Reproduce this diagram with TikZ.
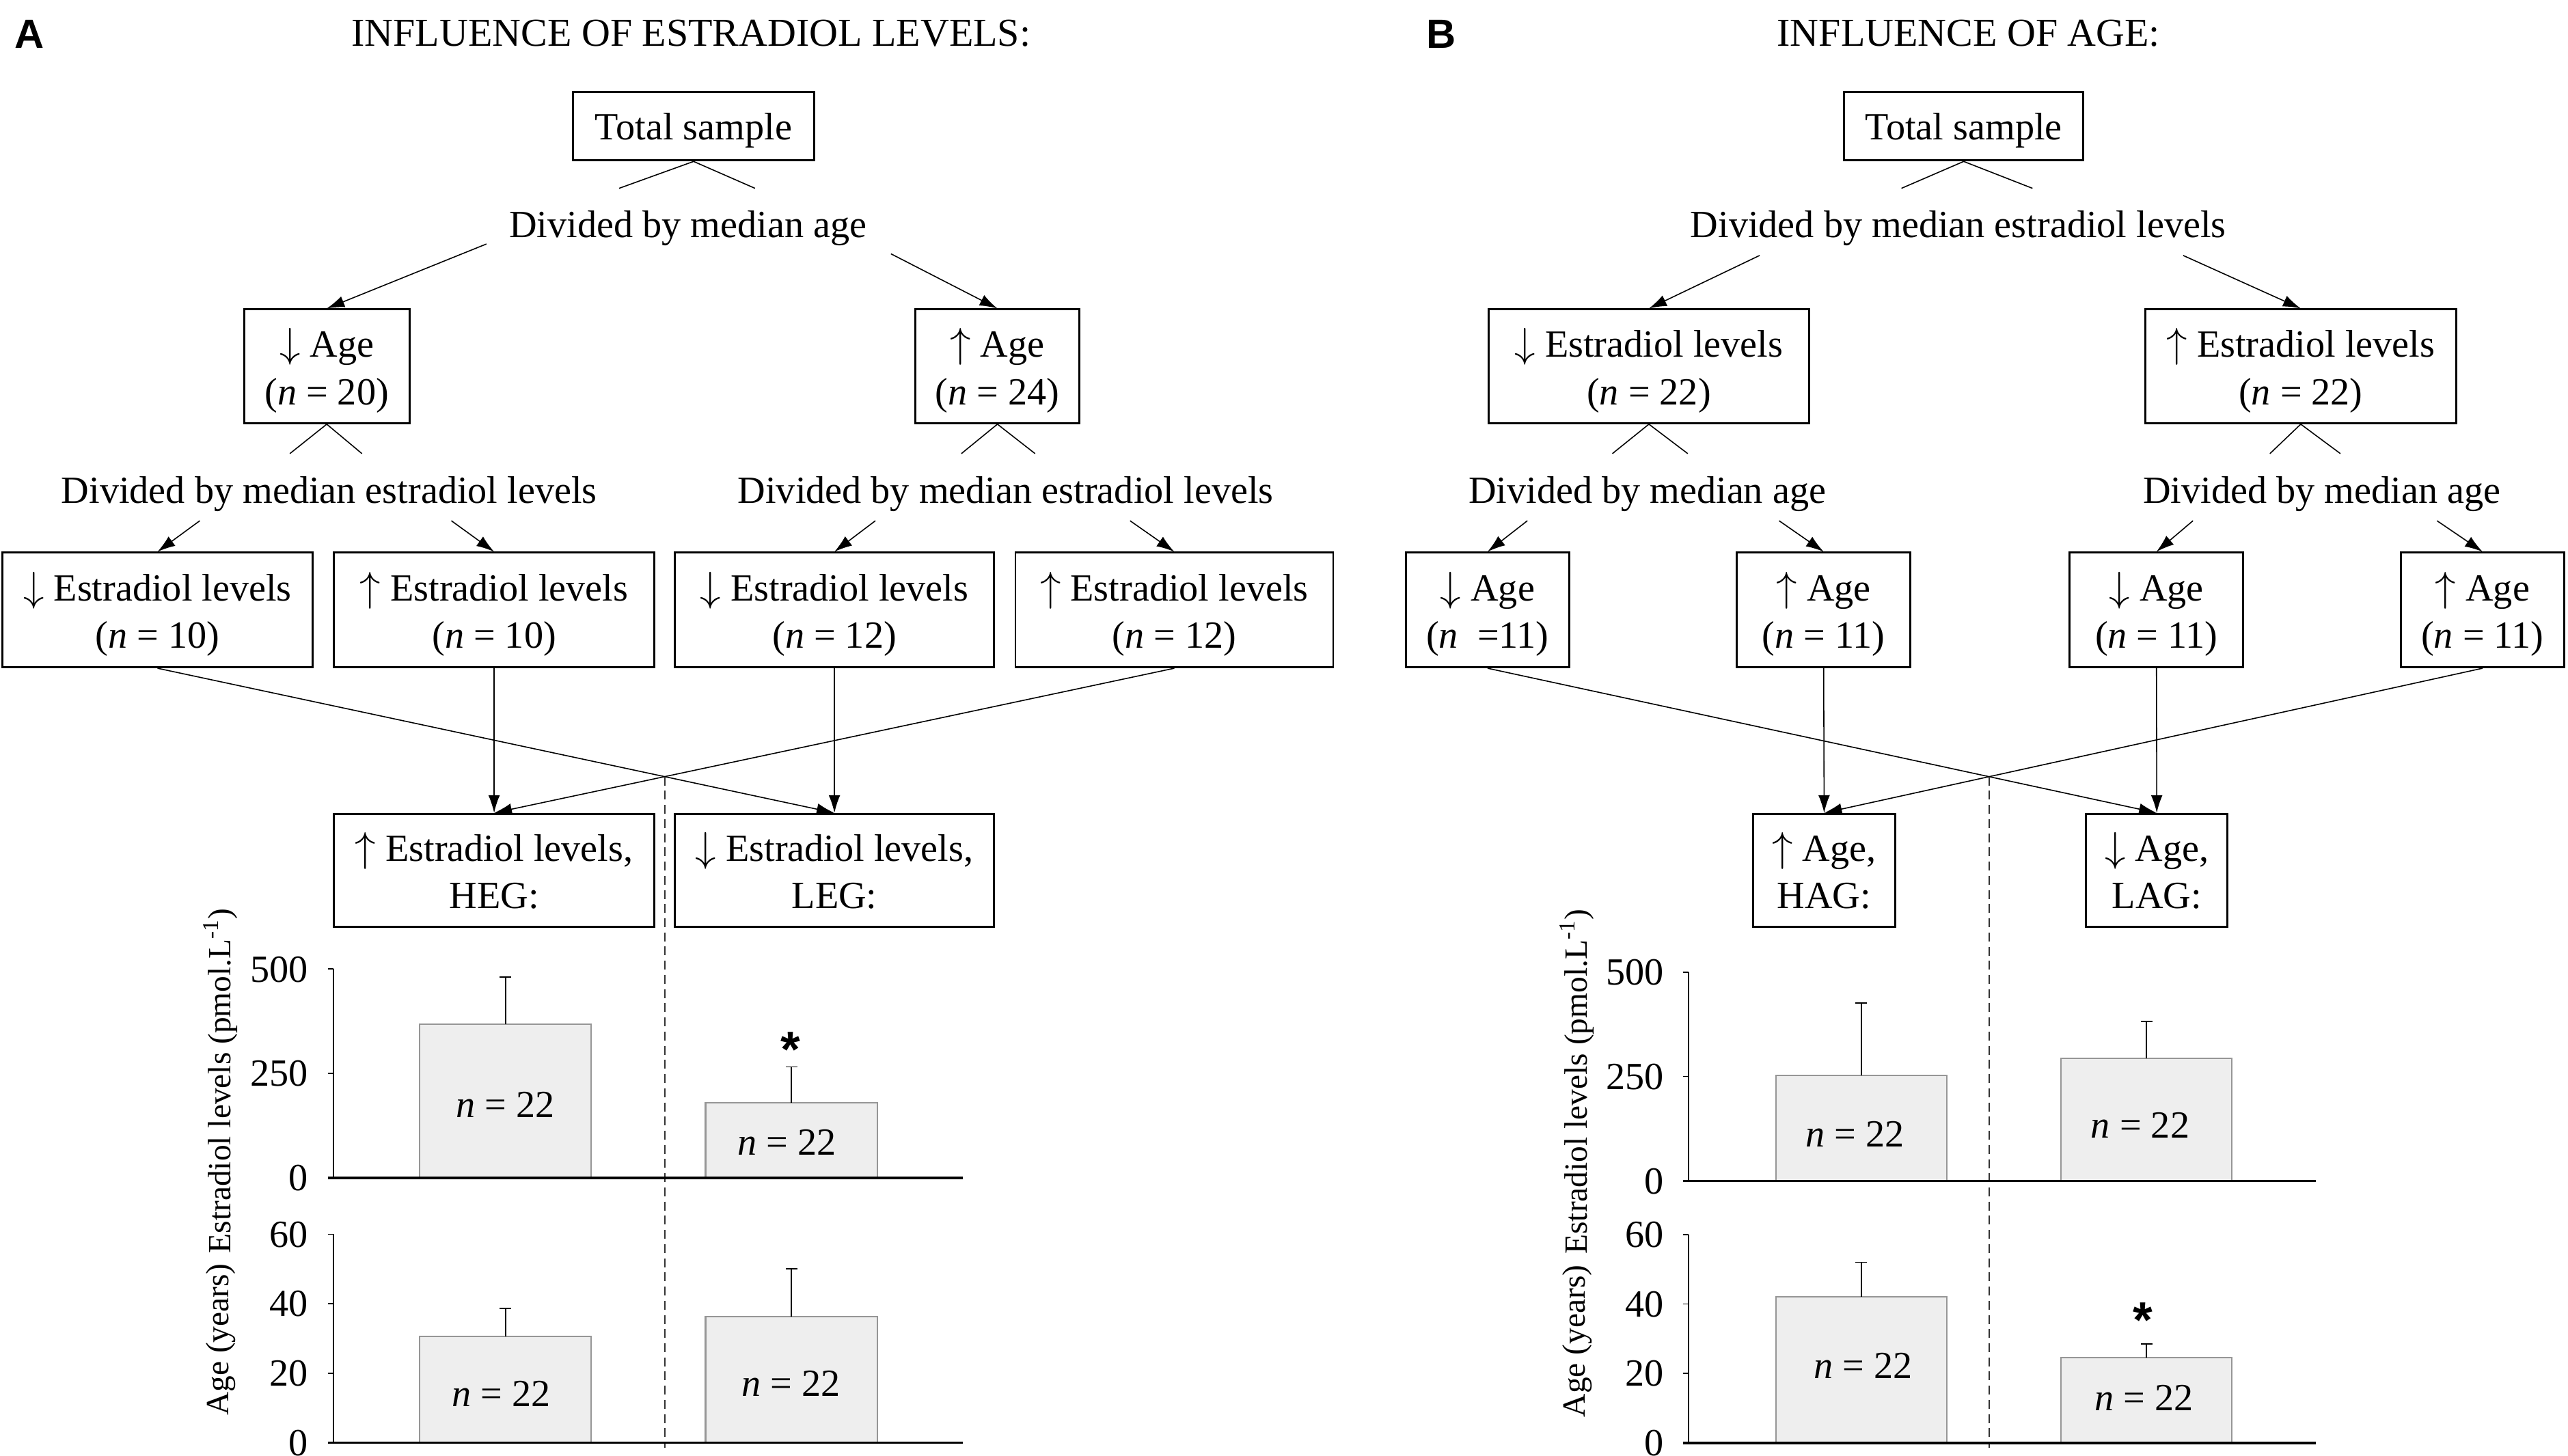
\documentclass[tikz,border=0pt]{standalone}
\usepackage{fontspec}
\setmainfont{Liberation Serif}
\newfontfamily\panelfont{Liberation Sans}
\usetikzlibrary{arrows.meta,intersections}

\definecolor{barfill}{RGB}{238,238,238}
\definecolor{baredge}{RGB}{150,150,150}

\newcommand{\dn}{$\downarrow$}
\newcommand{\up}{$\uparrow$}

\begin{document}
\begin{tikzpicture}[x=0.02397cm, y=-0.02397cm,
    every node/.style={inner sep=0pt, text depth=0pt, font=\fontsize{16}{19.8}\selectfont},
    box/.style={draw, line width=0.8pt, align=center},
    boxsize/.style 2 args={minimum width=#1*0.02397cm, minimum height=#2*0.02397cm},
    link/.style={line width=0.45pt},
    arrow/.style={link, -{Latex[length=2.6mm,width=1.7mm]}},
    bar/.style={draw=baredge, fill=barfill, line width=0.6pt},
    errbar/.style={line width=0.5pt},
    panel/.style={font=\panelfont\bfseries\fontsize{17}{20}\selectfont},
    title/.style={font=\fontsize{16.5}{20}\selectfont},
    axtitle/.style={font=\fontsize{13.5}{16}\selectfont, rotate=90},
    signif/.style={font=\panelfont\bfseries\fontsize{21}{21}\selectfont},
    split/.style={line width=0.5pt, black!80, dash pattern=on 3.7pt off 2.2pt}]

\useasboundingbox (0,0) rectangle (1568,889);

% ---------------- A: influence of estradiol levels ----------------
\node[panel] (labA) at (18,21) {A};
\node[title] (titleA) at (422,20) {INFLUENCE OF ESTRADIOL LEVELS:};

% tree
\node[box, boxsize={147}{42}] (totA) at (423.5,77) {Total sample};
\node (divA) at (420,137) {Divided by median age};
\node[box, boxsize={101}{69.5}] (lowA) at (199.5,223.7) {\dn{} Age\\(\textit{n} = 20)};
\node[box, boxsize={100}{69.5}] (highA) at (609,223.7) {\up{} Age\\(\textit{n} = 24)};
\node (divAl) at (201,299) {Divided by median estradiol levels};
\node (divAr) at (614,299) {Divided by median estradiol levels};
\node[box, boxsize={189.5}{70}] (eA1) at (96.2,372.5) {\dn{} Estradiol levels\\(\textit{n} = 10)};
\node[box, boxsize={195.5}{70}] (eA2) at (301.7,372.5) {\up{} Estradiol levels\\(\textit{n} = 10)};
\node[box, boxsize={195}{70}] (eA3) at (509.5,372.5) {\dn{} Estradiol levels\\(\textit{n} = 12)};
\node[box, boxsize={194}{70}] (eA4) at (717,372.5) {\up{} Estradiol levels\\(\textit{n} = 12)};
\node[box, boxsize={195.5}{69}] (heg) at (301.7,531.5) {\up{} Estradiol levels,\\HEG:};
\node[box, boxsize={195}{69}] (leg) at (509.5,531.5) {\dn{} Estradiol levels,\\LEG:};

% splits under the boxes
\coordinate (vA0l) at (378,115);
\coordinate (vA0r) at (461,115);
\coordinate (vA1l) at (177,277);
\coordinate (vA1r) at (221,277);
\coordinate (vA2l) at (587,277);
\coordinate (vA2r) at (632,277);
\draw[link] (vA0l) -- (totA.south) -- (vA0r);
\draw[link] (vA1l) -- (lowA.south) -- (vA1r);
\draw[link] (vA2l) -- (highA.south) -- (vA2r);

% arrows down the tree
\coordinate (sA1) at (297,149);
\coordinate (sA2) at (544,155);
\draw[arrow] (sA1) -- (lowA.north);
\draw[arrow] (sA2) -- (highA.north);
\foreach \i/\sx in {1/122, 2/275.6, 3/534.5, 4/690}
  \coordinate (tA\i) at (\sx,318);
\foreach \i in {1,...,4}
  \draw[arrow] (tA\i) -- (eA\i.north);

% regrouping
\draw[arrow] (eA2.south) -- (heg.north);
\draw[arrow] (eA3.south) -- (leg.north);
\draw[arrow, name path=crossA1] (eA1.south) -- (leg.north);
\draw[arrow, name path=crossA2] (eA4.south) -- (heg.north);
\path[name intersections={of=crossA1 and crossA2, by=midA}];
\coordinate (baseA) at (0,884);
\draw[split] (midA) -- (midA |- baseA);

% estradiol chart
\begin{scope}[shift={(0,719.4)}, y=0.0061222cm]
  \draw[line width=0.5pt] (203.7,0) -- (203.7,500);
  \foreach \t in {0,250,500} {
    \draw[line width=0.5pt] (200.3,\t) -- (203.7,\t);
    \node[anchor=east] (eyA\t) at (188.4,\t) {\t};
  }
  \foreach \xl/\xr/\v/\e in {256.3/360.9/367.6/480.8, 430.8/535.8/180/266} {
    \draw[bar] (\xl,0) rectangle (\xr,\v);
    \pgfmathsetmacro{\xc}{(\xl+\xr)/2}
    \draw[errbar] (\xc,\v) -- (\xc,\e) (\xc-3.5,\e) -- (\xc+3.5,\e);
  }
  \draw[line width=1pt] (200.3,0) -- (588,0);
\end{scope}

% age chart
\begin{scope}[shift={(0,881)}, y=0.050857cm]
  \draw[line width=0.5pt] (203.7,0) -- (203.7,60);
  \foreach \t in {0,20,40,60} {
    \draw[line width=0.5pt] (200.3,\t) -- (203.7,\t);
    \node[anchor=east] (ayA\t) at (188.4,\t) {\t};
  }
  \foreach \xl/\xr/\v/\e in {256.3/360.9/30.5/38.7, 430.8/535.8/36.2/50} {
    \draw[bar] (\xl,0) rectangle (\xr,\v);
    \pgfmathsetmacro{\xc}{(\xl+\xr)/2}
    \draw[errbar] (\xc,\v) -- (\xc,\e) (\xc-3.5,\e) -- (\xc+3.5,\e);
  }
  \draw[line width=1pt] (200.3,0) -- (588,0);
\end{scope}

\node (nA1) at (308.5,674.8) {\textit{n} = 22};
\node (nA2) at (480.5,697.4) {\textit{n} = 22};
\node (nA3) at (306,851) {\textit{n} = 22};
\node (nA4) at (483,845) {\textit{n} = 22};
\node[signif] (starA) at (482.6,641) {*};
\node[axtitle] (ylabA1) at (132.5,660) {Estradiol levels (pmol.L\textsuperscript{-1})};
\node[axtitle] (ylabA2) at (132.5,818) {Age (years)};

% ---------------- B: influence of age ----------------
\node[panel] (labB) at (880,21) {B};
\node[title] (titleB) at (1202,20) {INFLUENCE OF AGE:};

% tree
\node[box, boxsize={146}{42}] (totB) at (1199,77) {Total sample};
\node (divB) at (1195.7,137) {Divided by median estradiol levels};
\node[box, boxsize={195.6}{69.5}] (lowB) at (1006.8,223.7) {\dn{} Estradiol levels\\(\textit{n} = 22)};
\node[box, boxsize={189.6}{69.5}] (highB) at (1404.8,223.7) {\up{} Estradiol levels\\(\textit{n} = 22)};
\node (divBl) at (1005.8,299) {Divided by median age};
\node (divBr) at (1417.7,299) {Divided by median age};
\node[box, boxsize={100}{70}] (aB1) at (908.3,372.5) {\dn{} Age\\(\textit{n}~~=11)};
\node[box, boxsize={106}{70}] (aB2) at (1113.5,372.5) {\up{} Age\\(\textit{n} = 11)};
\node[box, boxsize={106}{70}] (aB3) at (1316.7,372.5) {\dn{} Age\\(\textit{n} = 11)};
\node[box, boxsize={99.5}{70}] (aB4) at (1515.8,372.5) {\up{} Age\\(\textit{n} = 11)};
\node[box, boxsize={86.5}{69}] (hag) at (1113.8,531.5) {\up{} Age,\\HAG:};
\node[box, boxsize={86.3}{69}] (lag) at (1316.9,531.5) {\dn{} Age,\\LAG:};

% splits under the boxes
\coordinate (vB0l) at (1161,115);
\coordinate (vB0r) at (1241,115);
\coordinate (vB1l) at (984.5,277);
\coordinate (vB1r) at (1030.5,277);
\coordinate (vB2l) at (1386,277);
\coordinate (vB2r) at (1429,277);
\draw[link] (vB0l) -- (totB.south) -- (vB0r);
\draw[link] (vB1l) -- (lowB.south) -- (vB1r);
\draw[link] (vB2l) -- (highB.south) -- (vB2r);

% arrows down the tree
\coordinate (sB1) at (1074.4,156);
\coordinate (sB2) at (1333,156);
\draw[arrow] (sB1) -- (lowB.north);
\draw[arrow] (sB2) -- (highB.north);
\foreach \i/\sx in {1/932.6, 2/1086.3, 3/1339, 4/1488}
  \coordinate (tB\i) at (\sx,318);
\foreach \i in {1,...,4}
  \draw[arrow] (tB\i) -- (aB\i.north);

% regrouping
\draw[arrow] (aB2.south) -- (hag.north);
\draw[arrow] (aB3.south) -- (lag.north);
\draw[arrow, name path=crossB1] (aB1.south) -- (lag.north);
\draw[arrow, name path=crossB2] (aB4.south) -- (hag.north);
\path[name intersections={of=crossB1 and crossB2, by=midB}];
\coordinate (baseB) at (0,884);
\draw[split] (midB) -- (midB |- baseB);

% estradiol chart
\begin{scope}[shift={(0,721.2)}, y=0.0061222cm]
  \draw[line width=0.5pt] (1030.9,0) -- (1030.9,500);
  \foreach \t in {0,250,500} {
    \draw[line width=0.5pt] (1027.5,\t) -- (1030.9,\t);
    \node[anchor=east] (eyB\t) at (1016,\t) {\t};
  }
  \foreach \xl/\xr/\v/\e in {1084.3/1188.6/253/426, 1258.5/1362.8/294/382} {
    \draw[bar] (\xl,0) rectangle (\xr,\v);
    \pgfmathsetmacro{\xc}{(\xl+\xr)/2}
    \draw[errbar] (\xc,\v) -- (\xc,\e) (\xc-3.5,\e) -- (\xc+3.5,\e);
  }
  \draw[line width=1pt] (1027.5,0) -- (1414,0);
\end{scope}

% age chart
\begin{scope}[shift={(0,881.2)}, y=0.050857cm]
  \draw[line width=0.5pt] (1030.9,0) -- (1030.9,60);
  \foreach \t in {0,20,40,60} {
    \draw[line width=0.5pt] (1027.5,\t) -- (1030.9,\t);
    \node[anchor=east] (ayB\t) at (1016,\t) {\t};
  }
  \foreach \xl/\xr/\v/\e in {1084.3/1188.6/42/52, 1258.5/1362.8/24.5/28.5} {
    \draw[bar] (\xl,0) rectangle (\xr,\v);
    \pgfmathsetmacro{\xc}{(\xl+\xr)/2}
    \draw[errbar] (\xc,\v) -- (\xc,\e) (\xc-3.5,\e) -- (\xc+3.5,\e);
  }
  \draw[line width=1pt] (1027.5,0) -- (1414,0);
\end{scope}

\node (nB1) at (1132.6,692.5) {\textit{n} = 22};
\node (nB2) at (1306.8,687) {\textit{n} = 22};
\node (nB3) at (1137.6,834) {\textit{n} = 22};
\node (nB4) at (1309,853.8) {\textit{n} = 22};
\node[signif] (starB) at (1308.6,806) {*};
\node[axtitle] (ylabB1) at (960.8,660.5) {Estradiol levels (pmol.L\textsuperscript{-1})};
\node[axtitle] (ylabB2) at (960.8,819) {Age (years)};

\end{tikzpicture}
\end{document}
